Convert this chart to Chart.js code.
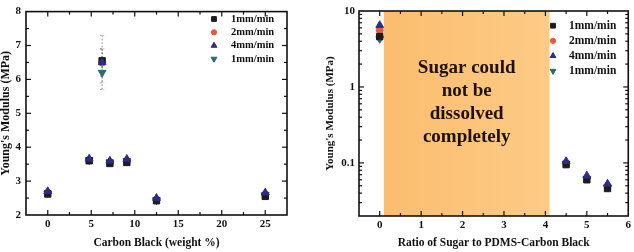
<!DOCTYPE html>
<html>
<head>
<meta charset="utf-8">
<script src="https://cdn.jsdelivr.net/npm/chart.js@4.4.1/dist/chart.umd.min.js"></script>
<style>
  html, body { margin:0; padding:0; background:#fff; }
  #wrap { position:relative; width:634px; height:252px; overflow:hidden; }
  .pane { position:absolute; top:0; width:317px; height:252px; }
</style>
</head>
<body>
<div id="wrap">
  <div class="pane" style="left:0"><canvas id="chartLeft" width="317" height="252"></canvas></div>
  <div class="pane" style="left:317px"><canvas id="chartRight" width="317" height="252"></canvas></div>
</div>
<script>
// ---- data ----
const seriesLabels = ['1mm/min', '2mm/min', '4mm/min', '1mm/min']

// left panel: modulus vs carbon black
const carbonBlack = [0, 4.76, 6.25, 7.14, 9.09, 12.5, 25]
const cbSquare   = [2.62, 3.60, 6.55, 3.52, 3.55, 2.42, 2.55]
const cbCircle   = [2.65, 3.62, 6.50, 3.55, 3.58, 2.45, 2.60]
const cbUp       = [2.70, 3.66, 6.50, 3.60, 3.65, 2.50, 2.66]
const cbDown     = [2.64, 3.62, 6.20, 3.56, 3.60, 2.44, 2.60]
const cbErrSquare = [0.04, 0.04, 0.35, 0.04, 0.04, 0.04, 0.04]
const cbErrCircle = [0.04, 0.04, 0.80, 0.04, 0.04, 0.04, 0.04]
const cbErrUp     = [0.04, 0.04, 0.40, 0.04, 0.04, 0.04, 0.04]
const cbErrDown   = [0.04, 0.04, 0.30, 0.04, 0.04, 0.04, 0.04]

// right panel: modulus vs sugar ratio (log)
const sugarRatio = [0, 4.5, 5, 5.5]
const srSquare = [4.6, 0.095, 0.060, 0.046]
const srCircle = [5.6, 0.100, 0.063, 0.049]
const srUp     = [6.5, 0.105, 0.068, 0.053]
const srDown   = [4.3, 0.098, 0.062, 0.048]

// ticks
const cbTicks = [0, 5, 10, 15, 20, 25]
const cbMinor = [-2.5, 2.5, 7.5, 12.5, 17.5, 22.5, 27.5]
const cbYTicks = [2, 3, 4, 5, 6, 7, 8]
const cbYMinor = [2.5, 3.5, 4.5, 5.5, 6.5, 7.5]
const srTicks = [0, 1, 2, 3, 4, 5, 6]
const srMinor = [0.5, 1.5, 2.5, 3.5, 4.5, 5.5]
const srYTicks = [0.1, 1, 10]
const srYMinor = [0.02,0.03,0.04,0.05,0.06,0.07,0.08,0.09,0.2,0.3,0.4,0.5,0.6,0.7,0.8,0.9,2,3,4,5,6,7,8,9]

const bandRange = [0.1, 4.1]
const bandText = ['Sugar could', 'not be', 'dissolved', 'completely']

// ---- styles ----
const COLORS = ['#1c1c1c', '#e35a3c', '#2c2c8a', '#2d6b6b']
const STYLES = [
  { pointStyle:'rect', radius:4.5, rotation:0 },
  { pointStyle:'circle', radius:3.5, rotation:0 },
  { pointStyle:'triangle', radius:4.5, rotation:0 },
  { pointStyle:'triangle', radius:4.5, rotation:180 }
]
const ORDER = [1, 3, 0, 2]
const SERIF = 'Liberation Serif, Times New Roman, serif'
Chart.defaults.font.family = SERIF
Chart.defaults.font.weight = 'bold'
Chart.defaults.color = '#111'

function toPts(xs, ys){ return xs.map((x,i)=>({x, y: ys[i]})) }
function makeSets(xs, yss, errs){
  return yss.map((ys,i)=>({
    label: seriesLabels[i],
    data: toPts(xs, ys),
    errors: errs ? errs[i] : null,
    order: ORDER[i],
    backgroundColor: COLORS[i], borderColor: COLORS[i], borderWidth: 1,
    pointStyle: STYLES[i].pointStyle, pointRadius: STYLES[i].radius,
    pointRotation: STYLES[i].rotation
  }))
}

// frame + inward ticks on all four sides
const frameTicks = {
  id: 'frameTicks',
  afterDatasetsDraw(chart, args, o){
    const {ctx, chartArea:a, scales:{x, y}} = chart
    ctx.save()
    ctx.strokeStyle = '#111'
    const ln = (x1,y1,x2,y2)=>{ ctx.beginPath(); ctx.moveTo(x1,y1); ctx.lineTo(x2,y2); ctx.stroke() }
    ctx.lineWidth = 1.2
    const xt = (vals, len)=>vals.forEach(v=>{ const p = x.getPixelForValue(v); if(p<a.left+1||p>a.right-1) return; ln(p,a.bottom,p,a.bottom-len); ln(p,a.top,p,a.top+len) })
    const yt = (vals, len)=>vals.forEach(v=>{ const p = y.getPixelForValue(v); if(p<a.top+1||p>a.bottom-1) return; ln(a.left,p,a.left+len,p); ln(a.right,p,a.right-len,p) })
    xt(o.xMajor, 5); xt(o.xMinor, 3)
    yt(o.yMajor, 5); yt(o.yMinor, 3)
    ctx.lineWidth = 1.6
    ctx.strokeRect(a.left, a.top, a.right-a.left, a.bottom-a.top)
    ctx.restore()
  }
}

// dotted error bars
const errorBars = {
  id: 'errorBars',
  beforeDatasetsDraw(chart){
    const {ctx, scales:{x, y}} = chart
    ctx.save()
    ctx.strokeStyle = '#8a8a8a'; ctx.lineWidth = 1; ctx.setLineDash([1.5, 2])
    chart.data.datasets.forEach(ds=>{
      if(!ds.errors) return
      ds.data.forEach((p,i)=>{
        const e = ds.errors[i]; if(!e) return
        const px = x.getPixelForValue(p.x)
        const y1 = y.getPixelForValue(p.y + e), y2 = y.getPixelForValue(p.y - e)
        ctx.beginPath(); ctx.moveTo(px,y1); ctx.lineTo(px,y2); ctx.stroke()
        ctx.beginPath(); ctx.moveTo(px-2,y1); ctx.lineTo(px+2,y1); ctx.moveTo(px-2,y2); ctx.lineTo(px+2,y2); ctx.stroke()
      })
    })
    ctx.restore()
  }
}

// shaded band with note
const band = {
  id: 'band',
  beforeDatasetsDraw(chart, args, o){
    if(!o.range) return
    const {ctx, chartArea:a, scales:{x}} = chart
    const x1 = x.getPixelForValue(o.range[0]), x2 = x.getPixelForValue(o.range[1])
    ctx.save()
    const g = ctx.createLinearGradient(x1,0,x2,0)
    g.addColorStop(0,'#fbbd6e'); g.addColorStop(1,'#fdcb86')
    ctx.fillStyle = g
    ctx.fillRect(x1, a.top, x2-x1, a.bottom-a.top)
    ctx.fillStyle = '#1e1006'
    ctx.font = 'bold 19px ' + SERIF
    ctx.textAlign = 'center'; ctx.textBaseline = 'middle'
    const cx = (x1+x2)/2
    o.lines.forEach((t,i)=>ctx.fillText(t, cx, o.textTop + i*o.lineGap))
    ctx.restore()
  }
}

// legend drawn inside plot
const innerLegend = {
  id: 'innerLegend',
  afterDatasetsDraw(chart, args, o){
    const {ctx} = chart
    ctx.save()
    ctx.font = 'bold ' + o.size + 'px ' + SERIF
    ctx.textBaseline = 'middle'; ctx.textAlign = 'left'
    seriesLabels.forEach((lab,i)=>{
      const yy = o.y + i*o.dy
      ctx.fillStyle = COLORS[i]; ctx.strokeStyle = COLORS[i]
      Chart.helpers.drawPoint(ctx, {pointStyle: STYLES[i].pointStyle, radius: STYLES[i].radius*0.75, rotation: STYLES[i].rotation, borderWidth: 1}, o.mx, yy)
      ctx.fillStyle = '#111'
      ctx.fillText(lab, o.tx, yy)
    })
    ctx.restore()
  }
}

function axisX(min, max, ticks, title, height, titlePad, size){
  return {
    type:'linear', min, max,
    afterBuildTicks: s => { s.ticks = ticks.map(v=>({value:v})) },
    afterFit: s => { s.height = height },
    grid:{ display:false, drawTicks:false }, border:{ display:false },
    ticks:{ padding:3, font:{ size:11, weight:'bold' }, color:'#111' },
    title:{ display:true, text:title, font:{ size:size, weight:'bold' }, color:'#111', padding:{ top:0, bottom:titlePad } }
  }
}

// left chart
new Chart(document.getElementById('chartLeft'), {
  type:'scatter',
  data:{ datasets: makeSets(carbonBlack, [cbSquare, cbCircle, cbUp, cbDown], [cbErrSquare, cbErrCircle, cbErrUp, cbErrDown]) },
  options:{
    responsive:false, animation:false,
    layout:{ padding:{ left:0, right:30, top:6, bottom:0 } },
    plugins:{
      legend:{ display:false }, tooltip:{ enabled:false },
      frameTicks:{ xMajor:cbTicks, xMinor:cbMinor, yMajor:cbYTicks, yMinor:cbYMinor },
      innerLegend:{ mx:214, tx:231, y:19, dy:13.3, size:10.5 },
      band:{}
    },
    scales:{
      x: axisX(-2.5, 27.5, cbTicks, 'Carbon Black (weight %)', 37, 2, 11.5),
      y:{
        type:'linear', min:2, max:8,
        afterBuildTicks: s => { s.ticks = cbYTicks.map(v=>({value:v})) },
        afterFit: s => { s.width = 26 },
        grid:{ display:false, drawTicks:false }, border:{ display:false },
        ticks:{ padding:5, font:{ size:11, weight:'bold' }, color:'#111' },
        title:{ display:true, text:"Young's Modulus (MPa)", font:{ size:12, weight:'bold', lineHeight:1 }, color:'#111', padding:{ top:0, bottom:0 } }
      }
    }
  },
  plugins:[errorBars, frameTicks, innerLegend]
})

// right chart
new Chart(document.getElementById('chartRight'), {
  type:'scatter',
  data:{ datasets: makeSets(sugarRatio, [srSquare, srCircle, srUp, srDown], null) },
  options:{
    responsive:false, animation:false,
    layout:{ padding:{ left:0, right:5, top:11, bottom:0 } },
    plugins:{
      legend:{ display:false }, tooltip:{ enabled:false },
      frameTicks:{ xMajor:srTicks, xMinor:srMinor, yMajor:srYTicks, yMinor:srYMinor },
      innerLegend:{ mx:236, tx:252, y:25.7, dy:15.1, size:11.5 },
      band:{ range:bandRange, lines:bandText, textTop:68, lineGap:23 }
    },
    scales:{
      x: axisX(-0.5, 6, srTicks, 'Ratio of Sugar to PDMS-Carbon Black', 36, 2, 11.5),
      y:{
        type:'logarithmic', min:0.02, max:10,
        afterBuildTicks: s => { s.ticks = srYTicks.map(v=>({value:v})) },
        afterFit: s => { s.width = 42 },
        grid:{ display:false, drawTicks:false }, border:{ display:false },
        ticks:{ padding:4, font:{ size:11, weight:'bold' }, color:'#111', callback: v => String(v) },
        title:{ display:true, text:"Young's Modulus (MPa)", font:{ size:11, weight:'bold', lineHeight:1.2 }, color:'#111', padding:{ top:7, bottom:0 } }
      }
    }
  },
  plugins:[band, frameTicks, innerLegend]
})
</script>
</body>
</html>
